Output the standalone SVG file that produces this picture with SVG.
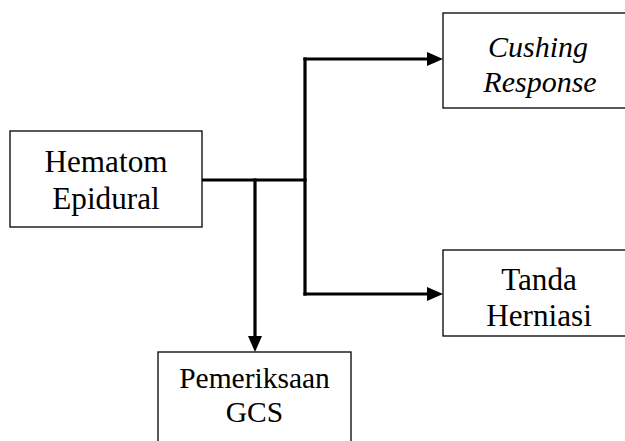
<svg xmlns="http://www.w3.org/2000/svg" width="625" height="441" viewBox="0 0 625 441">
  <style>
    .box { fill: #ffffff; stroke: #000000; stroke-width: 1.3; }
    text { font-family: "Liberation Serif", "Times New Roman", Times, serif; font-size: 30px; fill: #000000; text-anchor: middle; }
    .it { font-style: italic; }
    .big { font-size: 31.2px; }
    .small { font-size: 29.5px; }
    .conn { fill: none; stroke: #000000; stroke-width: 3.2; stroke-linejoin: miter; stroke-linecap: square; }
  </style>
  <defs>
    <marker id="arrow" viewBox="0 0 16 14" refX="8" refY="7" markerWidth="16" markerHeight="14" markerUnits="userSpaceOnUse" orient="auto">
      <path d="M0,0 L16,7 L0,14 Z" fill="#000000"/>
    </marker>
  </defs>
  <rect x="0" y="0" width="625" height="441" fill="#ffffff"/>

  <g id="connectors">
    <path class="conn" d="M202,180 L305,180"/>
    <path class="conn" d="M305,59 L305,294"/>
    <path class="conn" d="M305,59 L435,59" marker-end="url(#arrow)"/>
    <path class="conn" d="M305,294 L435,294" marker-end="url(#arrow)"/>
    <path class="conn" d="M255,180 L255,344" marker-end="url(#arrow)"/>
  </g>

  <g id="hematom-epidural">
    <rect class="box" x="10" y="131" width="192" height="96"/>
    <text class="big" x="106" y="172">Hematom</text>
    <text class="big" x="106" y="209">Epidural</text>
  </g>

  <g id="cushing-response">
    <rect class="box" x="443" y="13" width="200" height="95"/>
    <text class="it" x="538" y="57">Cushing</text>
    <text class="it" x="540" y="92">Response</text>
  </g>

  <g id="tanda-herniasi">
    <rect class="box" x="443" y="250" width="200" height="86"/>
    <text class="big" x="539" y="290">Tanda</text>
    <text class="big" x="539" y="326">Herniasi</text>
  </g>

  <g id="pemeriksaan-gcs">
    <rect class="box" x="158" y="352" width="193" height="110"/>
    <text class="small" x="254.5" y="388">Pemeriksaan</text>
    <text class="small" x="254.5" y="422">GCS</text>
  </g>
</svg>
